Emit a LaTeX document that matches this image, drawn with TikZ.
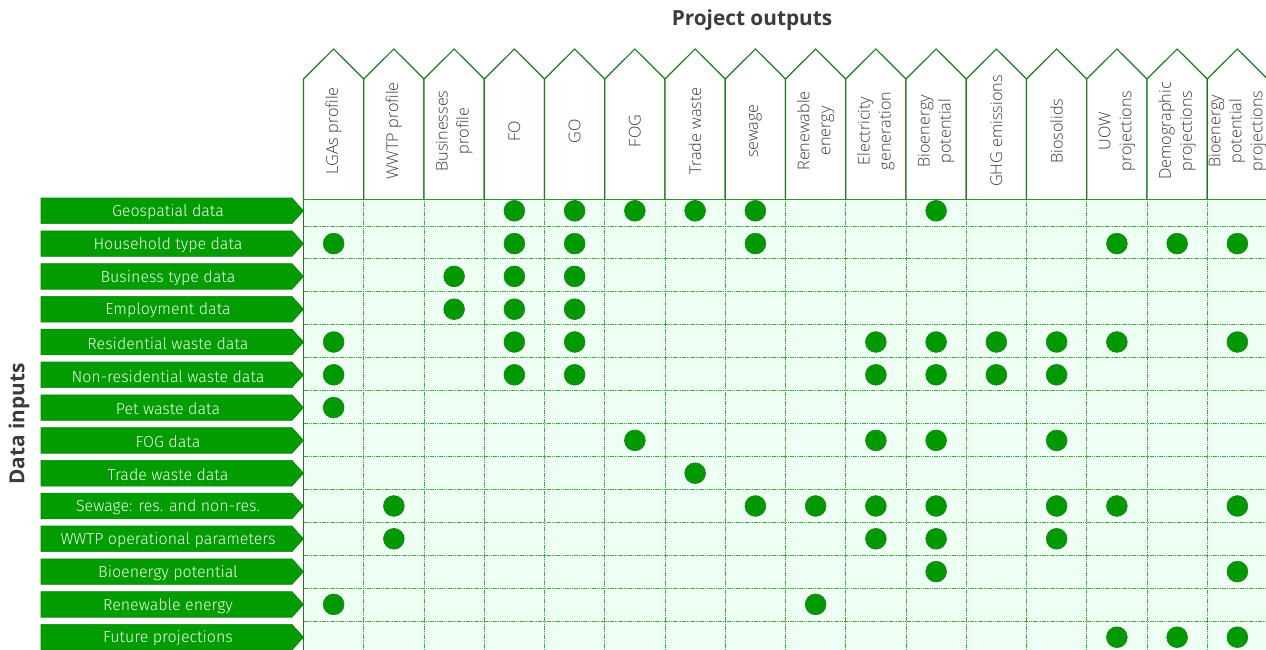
\documentclass[tikz,border=0pt]{standalone}
\usepackage{fontspec}
\setmainfont{Open Sans}
\newfontfamily\hfont{Open Sans Light}
\newfontfamily\rfont{Fira Sans Light}
\definecolor{hdrgreen}{HTML}{1E7B1E}
\definecolor{mint}{HTML}{EEFFF3}
\definecolor{gridgreen}{HTML}{3CAA3C}
\definecolor{dotfill}{HTML}{009900}
\definecolor{dotline}{HTML}{1F7F1F}
\definecolor{arrowfill}{HTML}{009C00}
\definecolor{arrowline}{HTML}{0A850A}
\definecolor{titlegray}{HTML}{3C3C3C}
\definecolor{hdrtext}{HTML}{3A3A3A}
\tikzset{
  hdrbox/.style={draw=hdrgreen, line width=1.2pt, fill=white, line join=miter},
  gridline/.style={draw=gridgreen, line width=1pt, dash pattern=on 1.2pt off 0.6pt},
  hdrlabel/.style={rotate=90, align=center, text=hdrtext, font=\hfont\fontsize{16.2}{21}\selectfont, inner sep=0pt},
  rowarrow/.style={fill=arrowfill, draw=arrowline, line width=0.6pt},
  rowlabel/.style={text=white!94!green, font=\rfont\fontsize{16}{18}\selectfont, inner sep=0pt},
  dotmark/.style={circle, fill=dotfill, draw=dotline, line width=0.6pt, minimum size=20.8pt, inner sep=0pt},
  titlelabel/.style={text=titlegray, font=\bfseries\fontsize{20.8}{24}\selectfont, inner sep=0pt}
}
\begin{document}
\begin{tikzpicture}[x=1pt,y=-1pt]
\path[use as bounding box, fill=white] (0,0) rectangle (1266,649);
% grid background
\fill[mint] (303.5,199) rectangle (1268,660);
% grid lines
\foreach \i in {1,...,15}{
  \draw[gridline] ({303.5+60.25*\i},199) -- ({303.5+60.25*\i},660);
}
\foreach \k in {0,...,12}{
  \draw[gridline] (303.5,{226+32.98*\k}) -- (1268,{226+32.98*\k});
}
\draw[draw=hdrgreen, line width=1.2pt] (303.5,660) -- (303.5,199) -- (1268,199);
% header pentagons
\foreach \i/\t in {0/{LGAs profile},1/{WWTP profile},2/{Businesses\\profile},3/{FO},4/{GO},5/{FOG},6/{Trade waste},7/{sewage},8/{Renewable\\energy},9/{Electricity\\generation},10/{Bioenergy\\potential},11/{GHG emissions},12/{Biosolids},13/{UOW\\projections},14/{Demographic\\projections},15/{Bioenergy\\potential\\projections}}{
  \pgfmathsetmacro{\xl}{303.5+60.25*\i}
  \pgfmathsetmacro{\xr}{303.5+60.25*(\i+1)}
  \pgfmathsetmacro{\xc}{303.5+60.25*(\i+0.5)}
  \draw[hdrbox] (\xl,199) -- (\xl,79) -- (\xc,49) -- (\xr,79) -- (\xr,199);
  \node[hdrlabel] (h\i) at (\xc,131) {\t};
}
% row arrows
\foreach \k/\t in {0/{Geospatial data},1/{Household type data},2/{Business type data},3/{Employment data},4/{Residential waste data},5/{Non-residential waste data},6/{Pet waste data},7/{FOG data},8/{Trade waste data},9/{Sewage: res. and non-res.},10/{WWTP operational parameters},11/{Bioenergy potential},12/{Renewable energy},13/{Future projections}}{
  \pgfmathsetmacro{\yc}{210.8+32.8*\k}
  \draw[rowarrow] (41,\yc-12.8) -- (292,\yc-12.8) -- (303.5,\yc) -- (292,\yc+12.8) -- (41,\yc+12.8) -- cycle;
  \node[rowlabel] (r\k) at (168,\yc+1.3) {\t};
}
% dots
\foreach \c/\r [count=\n] in {3/0,4/0,5/0,6/0,7/0,10/0,
  0/1,3/1,4/1,7/1,13/1,14/1,15/1,
  2/2,3/2,4/2,
  2/3,3/3,4/3,
  0/4,3/4,4/4,9/4,10/4,11/4,12/4,13/4,15/4,
  0/5,3/5,4/5,9/5,10/5,11/5,12/5,
  0/6,
  5/7,9/7,10/7,12/7,
  6/8,
  1/9,7/9,8/9,9/9,10/9,12/9,13/9,15/9,
  1/10,9/10,10/10,12/10,
  10/11,15/11,
  0/12,8/12,
  13/13,14/13,15/13}{
  \node[dotmark] (d\n) at ({303.5+60.25*(\c+0.5)},{210.8+32.8*\r}) {};
}
% titles
\node[titlelabel] (title) at (752,20) {Project outputs};
\node[titlelabel, rotate=90] (inputs) at (19,424) {Data inputs};
\end{tikzpicture}
\end{document}
